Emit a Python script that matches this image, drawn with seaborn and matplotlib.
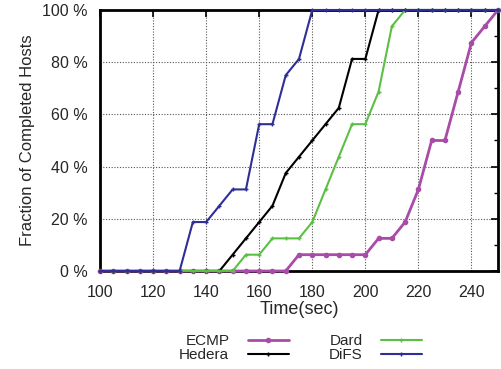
import matplotlib
matplotlib.use("Agg")
import matplotlib.pyplot as plt
import seaborn as sns
import pandas as pd
from matplotlib.ticker import MultipleLocator, FuncFormatter

times = [100, 105, 110, 115, 120, 125, 130, 135, 140, 145, 150, 155, 160, 165, 170,
         175, 180, 185, 190, 195, 200, 205, 210, 215, 220, 225, 230, 235, 240, 245, 250]

ecmp = [0, 0, 0, 0, 0, 0, 0, 0, 0, 0, 0, 0, 0, 0, 0,
        6.25, 6.25, 6.25, 6.25, 6.25, 6.25, 12.5, 12.5, 18.75, 31.25, 50, 50, 68.75, 87.5, 93.75, 100]
hedera = [0, 0, 0, 0, 0, 0, 0, 0, 0, 0, 6.25, 12.5, 18.75, 25, 37.5,
          43.75, 50, 56.25, 62.5, 81.25, 81.25, 100, 100, 100, 100, 100, 100, 100, 100, 100, 100]
dard = [0, 0, 0, 0, 0, 0, 0, 0, 0, 0, 0, 6.25, 6.25, 12.5, 12.5,
        12.5, 18.75, 31.25, 43.75, 56.25, 56.25, 68.75, 93.75, 100, 100, 100, 100, 100, 100, 100, 100]
difs = [0, 0, 0, 0, 0, 0, 0, 18.75, 18.75, 25, 31.25, 31.25, 56.25, 56.25, 75,
        81.25, 100, 100, 100, 100, 100, 100, 100, 100, 100, 100, 100, 100, 100, 100, 100]

labels = ["ECMP", "Hedera", "Dard", "DiFS"]
series = [ecmp, hedera, dard, difs]
colors = ["#a84ca8", "#000000", "#5bbf45", "#2e2e96"]
markers = ["o", "+", "+", "+"]
msizes = [3.0, 3, 3.5, 3.5]
lwidths = [2.0, 1.5, 1.5, 1.5]

sns.set_style("white")
plt.rcParams["font.family"] = ["Liberation Sans", "DejaVu Sans"]

fig = plt.figure(figsize=(5.01, 3.69), dpi=100)
ax = fig.add_axes([0.1996, 0.2656, 0.7944, 0.7073])

for lab, ys, c, m, ms, lw in zip(labels, series, colors, markers, msizes, lwidths):
    df = pd.DataFrame({"t": times, "v": ys})
    sns.lineplot(data=df, x="t", y="v", ax=ax, color=c, marker=m, markersize=ms,
                 markeredgecolor=c, markeredgewidth=1.0, linewidth=lw,
                 label=lab, clip_on=False, zorder=5)

ax.set_xlim(100, 250)
ax.set_ylim(0, 100)
ax.xaxis.set_major_locator(MultipleLocator(20))
ax.yaxis.set_major_locator(MultipleLocator(20))
ax.yaxis.set_minor_locator(MultipleLocator(10))
ax.yaxis.set_major_formatter(FuncFormatter(lambda v, p: f"{int(v)} %"))
ax.tick_params(which="both", direction="in", top=True, right=True, labelsize=11.5, color="black")
ax.tick_params(which="major", length=5, width=1.2)
ax.tick_params(axis="x", which="major", pad=10)
ax.tick_params(axis="y", which="major", pad=9)
ax.tick_params(which="minor", length=3, width=1.0)
ax.tick_params(axis="x", which="minor", bottom=False, top=False)
ax.grid(True, which="major", linestyle=(0, (1, 1.5)), color="#555555", linewidth=0.8)
for s in ax.spines.values():
    s.set_linewidth(2)
    s.set_color("black")
    s.set_visible(True)

ax.set_xlabel("Time(sec)", fontsize=13, labelpad=1)
ax.set_ylabel("Fraction of Completed Hosts", fontsize=12, labelpad=5)

h, l = ax.get_legend_handles_labels()
ax.legend_.remove()
fig.legend(h, l, ncol=2, markerfirst=False, loc="lower center",
           bbox_to_anchor=(0.6, -0.018), frameon=False, fontsize=11,
           handlelength=2.7, columnspacing=2.6, labelspacing=0.0, handletextpad=1.2)

fig.savefig("out.png", dpi=100)
